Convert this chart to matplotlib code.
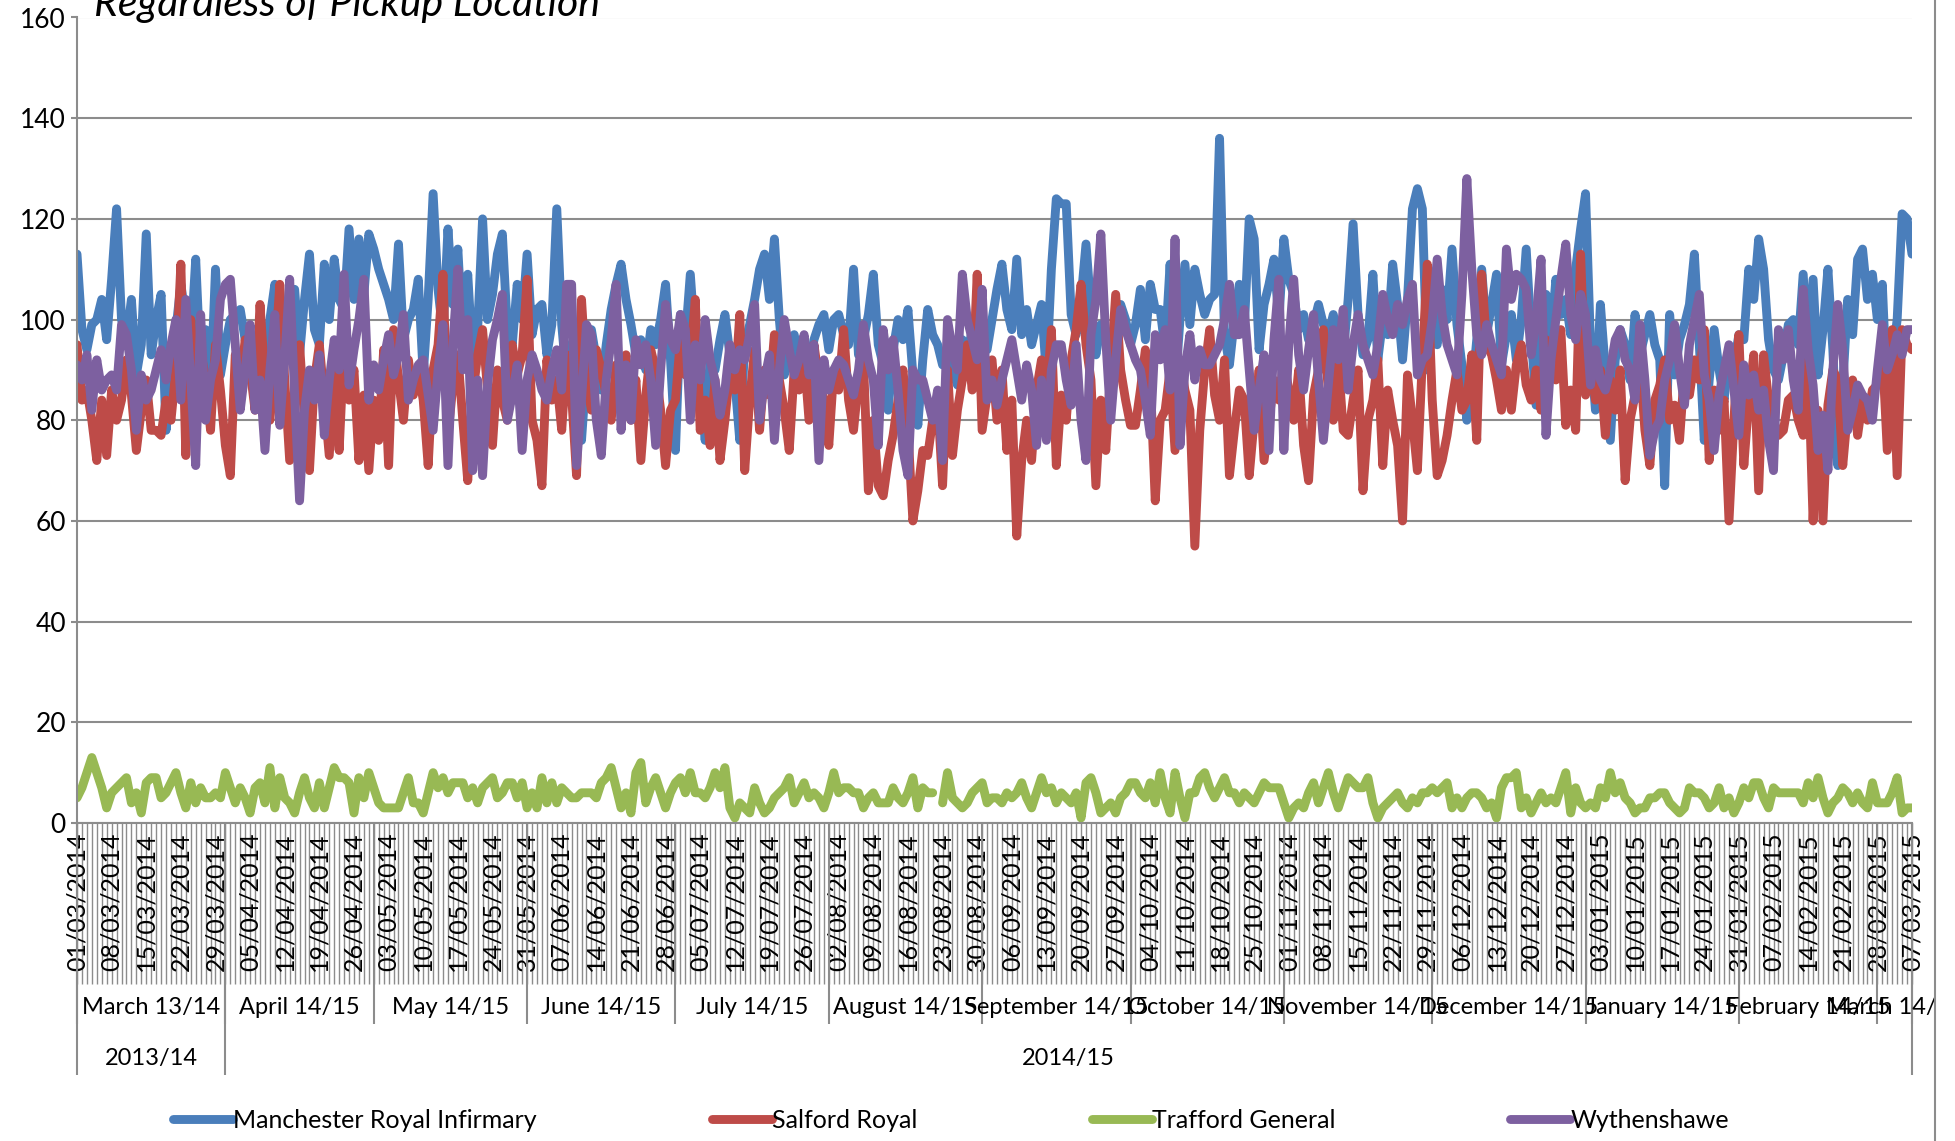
import numpy as np
import matplotlib.pyplot as plt
from matplotlib.lines import Line2D
from matplotlib.transforms import Bbox, TransformedBbox, blended_transform_factory
from datetime import datetime, timedelta

plt.rcParams['font.family'] = ['Lato', 'DejaVu Sans']

# daily values, 01/03/2014 .. 07/03/2015
mri = [
    113, 98, 94, 99, 100, 104, 96, 108, 122, 100,
    96, 104, 89, 95, 117, 93, 100, 105, 78, 92,
    98, 107, 100, 95, 112, 90, 98, 85, 110, 89,
    95, 100, 101, 102, 96, 93, 90, 98, 94, 100,
    107, 96, 92, 99, 106, 93, 104, 113, 98, 95,
    111, 100, 112, 104, 102, 118, 104, 116, 105, 117,
    114, 110, 107, 104, 100, 115, 96, 100, 102, 108,
    89, 104, 125, 106, 97, 118, 103, 114, 96, 109,
    92, 98, 120, 100, 105, 113, 117, 98, 95, 107,
    100, 113, 97, 102, 103, 93, 99, 122, 99, 88,
    95, 98, 76, 90, 98, 92, 86, 95, 102, 107,
    111, 104, 99, 93, 96, 90, 98, 95, 100, 107,
    92, 74, 101, 96, 109, 95, 88, 76, 92, 90,
    96, 101, 93, 88, 76, 95, 99, 104, 110, 113,
    104, 116, 100, 89, 94, 97, 92, 95, 90, 96,
    99, 101, 94, 100, 101, 97, 95, 110, 93, 96,
    101, 109, 95, 91, 82, 94, 100, 96, 102, 89,
    79, 92, 102, 97, 95, 91, 94, 90, 87, 96,
    93, 98, 95, 99, 94, 100, 106, 111, 102, 98,
    112, 97, 102, 95, 99, 103, 89, 110, 124, 123,
    123, 101, 97, 104, 115, 102, 93, 99, 96, 91,
    98, 103, 100, 95, 99, 106, 96, 107, 102, 102,
    94, 111, 86, 100, 111, 99, 110, 105, 101, 104,
    105, 136, 97, 91, 100, 107, 98, 120, 116, 94,
    103, 107, 112, 100, 116, 108, 105, 98, 101, 96,
    99, 103, 99, 97, 101, 96, 93, 104, 119, 101,
    93, 96, 109, 92, 100, 97, 111, 103, 92, 104,
    122, 126, 122, 90, 98, 95, 106, 100, 114, 99,
    91, 80, 85, 96, 110, 97, 103, 109, 91, 97,
    101, 92, 100, 114, 97, 83, 99, 105, 96, 108,
    101, 104, 97, 110, 118, 125, 95, 82, 103, 90,
    76, 92, 98, 95, 88, 101, 93, 97, 101, 95,
    92, 67, 101, 89, 96, 99, 103, 113, 95, 76,
    88, 98, 90, 84, 93, 91, 97, 96, 110, 104,
    116, 110, 96, 90, 88, 93, 99, 100, 95, 109,
    92, 108, 89, 98, 110, 94, 71, 87, 104, 97,
    112, 114, 104, 109, 100, 107, 84, 92, 100, 121,
    120, 113,
]

salford = [
    95, 84, 86, 80, 72, 84, 73, 86, 80, 84,
    92, 85, 74, 82, 88, 78, 78, 77, 84, 80,
    90, 111, 73, 100, 82, 94, 88, 78, 95, 86,
    75, 69, 93, 87, 96, 90, 82, 103, 88, 80,
    92, 107, 88, 72, 86, 95, 80, 70, 88, 95,
    84, 73, 90, 74, 95, 84, 90, 72, 85, 70,
    84, 76, 94, 71, 98, 88, 80, 92, 85, 90,
    84, 71, 90, 95, 109, 77, 87, 93, 80, 68,
    85, 93, 98, 86, 75, 90, 84, 80, 95, 89,
    93, 108, 80, 76, 67, 92, 84, 88, 78, 93,
    85, 69, 104, 88, 82, 94, 90, 85, 80, 91,
    86, 93, 80, 88, 72, 85, 94, 90, 82, 71,
    82, 84, 96, 89, 92, 104, 78, 84, 75, 88,
    72, 80, 90, 86, 101, 70, 84, 94, 78, 90,
    85, 97, 88, 82, 74, 90, 86, 93, 80, 95,
    88, 84, 75, 90, 86, 98, 84, 78, 88, 92,
    66, 80, 67, 65, 72, 77, 84, 90, 78, 60,
    66, 74, 73, 80, 84, 67, 90, 73, 82, 88,
    95, 86, 109, 78, 85, 92, 80, 90, 74, 84,
    57, 72, 80, 72, 86, 92, 84, 98, 71, 85,
    80, 92, 98, 107, 95, 88, 67, 84, 74, 90,
    105, 90, 84, 79, 79, 86, 94, 88, 64, 80,
    82, 90, 74, 92, 86, 82, 55, 78, 90, 98,
    85, 80, 92, 69, 78, 86, 84, 69, 80, 90,
    72, 80, 88, 84, 92, 86, 80, 90, 75, 68,
    85, 90, 98, 86, 80, 92, 78, 77, 84, 90,
    66, 80, 84, 92, 71, 86, 80, 75, 60, 89,
    80, 70, 92, 111, 84, 69, 72, 77, 84, 90,
    82, 84, 93, 76, 109, 95, 93, 88, 82, 90,
    82, 91, 95, 87, 84, 90, 82, 96, 92, 88,
    98, 79, 86, 78, 113, 85, 92, 84, 90, 77,
    88, 82, 90, 68, 80, 85, 92, 78, 71, 84,
    87, 92, 80, 83, 76, 90, 85, 92, 88, 98,
    72, 86, 78, 84, 60, 80, 97, 71, 84, 93,
    66, 93, 84, 80, 77, 78, 84, 85, 80, 77,
    92, 60, 82, 60, 83, 90, 88, 71, 82, 88,
    77, 84, 80, 86, 87, 94, 74, 98, 69, 98,
    95, 94,
]

trafford = [
    5, 7, 10, 13, 10, 7, 3, 6, 7, 8,
    9, 4, 6, 2, 8, 9, 9, 5, 6, 8,
    10, 6, 3, 8, 4, 7, 5, 5, 6, 5,
    10, 7, 4, 7, 5, 2, 7, 8, 4, 11,
    3, 9, 5, 4, 2, 6, 9, 5, 3, 8,
    3, 7, 11, 9, 9, 8, 2, 9, 5, 10,
    7, 4, 3, 3, 3, 3, 6, 9, 4, 4,
    2, 6, 10, 7, 9, 6, 8, 8, 8, 5,
    7, 4, 7, 8, 9, 5, 6, 8, 8, 5,
    8, 3, 6, 3, 9, 4, 8, 4, 7, 6,
    5, 5, 6, 6, 6, 5, 8, 9, 11, 7,
    3, 6, 2, 10, 12, 4, 7, 9, 6, 3,
    6, 8, 9, 6, 10, 6, 6, 5, 7, 10,
    7, 11, 3, 1, 4, 3, 2, 7, 4, 2,
    3, 5, 6, 7, 9, 4, 6, 8, 5, 6,
    5, 3, 6, 10, 6, 7, 7, 6, 6, 3,
    5, 6, 4, 4, 4, 7, 5, 4, 6, 9,
    3, 7, 6, 6, np.nan, 4, 10, 5, 4, 3,
    4, 6, 7, 8, 4, 5, 5, 4, 6, 5,
    6, 8, 5, 3, 6, 9, 6, 7, 4, 6,
    5, 4, 6, 1, 8, 9, 6, 2, 3, 4,
    2, 5, 6, 8, 8, 6, 5, 8, 4, 10,
    5, 2, 10, 5, 1, 6, 6, 9, 10, 7,
    5, 7, 9, 6, 6, 4, 6, 5, 4, 6,
    8, 7, 7, 7, 4, 1, 3, 4, 3, 6,
    8, 4, 7, 10, 6, 3, 6, 9, 8, 7,
    7, 9, 4, 1, 3, 4, 5, 6, 4, 3,
    5, 4, 6, 6, 7, 6, 7, 8, 3, 5,
    3, 5, 6, 6, 5, 3, 4, 1, 7, 9,
    9, 10, 3, 5, 2, 4, 6, 4, 5, 4,
    7, 10, 2, 7, 4, 3, 4, 3, 7, 5,
    10, 6, 8, 5, 4, 2, 3, 3, 5, 5,
    6, 6, 4, 3, 2, 3, 7, 6, 6, 5,
    3, 4, 7, 3, 5, 2, 4, 7, 5, 8,
    8, 5, 3, 7, 6, 6, 6, 6, 6, 4,
    8, 5, 9, 5, 2, 4, 5, 7, 6, 4,
    6, 4, 3, 8, 4, 4, 4, 6, 9, 2,
    3, 3,
]

wythenshawe = [
    91, 88, 93, 82, 92, 86, 88, 89, 86, 99,
    97, 90, 78, 89, 84, 86, 90, 94, 88, 95,
    100, 84, 104, 88, 71, 101, 80, 88, 92, 104,
    107, 108, 95, 82, 90, 99, 82, 88, 74, 90,
    101, 79, 92, 108, 85, 64, 82, 90, 84, 93,
    77, 88, 96, 90, 109, 87, 94, 100, 108, 84,
    91, 86, 92, 97, 89, 93, 101, 84, 88, 91,
    92, 85, 78, 90, 99, 71, 95, 110, 90, 100,
    70, 88, 69, 87, 96, 100, 105, 80, 85, 91,
    74, 88, 93, 90, 86, 84, 90, 94, 86, 107,
    107, 71, 84, 99, 97, 80, 73, 88, 96, 107,
    78, 91, 80, 96, 91, 95, 88, 75, 90, 103,
    96, 94, 101, 98, 80, 95, 88, 100, 92, 88,
    81, 86, 95, 90, 94, 92, 97, 103, 80, 88,
    93, 76, 90, 100, 94, 89, 92, 97, 89, 95,
    72, 92, 86, 90, 92, 91, 88, 85, 90, 99,
    92, 88, 75, 98, 90, 96, 86, 74, 69, 90,
    88, 88, 84, 80, 86, 72, 100, 94, 90, 109,
    100, 96, 92, 106, 84, 88, 83, 88, 92, 96,
    90, 84, 91, 86, 75, 88, 76, 90, 95, 95,
    88, 83, 95, 80, 72, 97, 104, 117, 96, 80,
    92, 102, 98, 95, 92, 90, 84, 77, 97, 92,
    98, 86, 116, 75, 90, 97, 88, 94, 91, 91,
    93, 95, 100, 107, 97, 97, 102, 90, 78, 86,
    93, 74, 96, 108, 74, 95, 108, 93, 86, 94,
    101, 88, 76, 87, 98, 92, 102, 86, 95, 101,
    95, 92, 89, 95, 105, 100, 97, 103, 99, 104,
    107, 89, 92, 93, 100, 112, 101, 95, 92, 89,
    105, 128, 110, 97, 93, 99, 95, 92, 89, 114,
    104, 109, 108, 106, 93, 100, 112, 77, 92, 100,
    108, 115, 101, 96, 105, 101, 87, 94, 88, 86,
    90, 96, 98, 92, 90, 84, 99, 88, 73, 78,
    80, 88, 92, 99, 90, 83, 95, 100, 105, 89,
    84, 74, 85, 90, 95, 86, 77, 91, 85, 89,
    82, 86, 76, 70, 98, 92, 98, 88, 82, 106,
    94, 87, 74, 81, 70, 90, 103, 94, 78, 82,
    87, 85, 84, 80, 90, 99, 90, 93, 97, 93,
    98, 98,
]

series = [mri, salford, trafford, wythenshawe]
names = ['Manchester Royal Infirmary', 'Salford Royal', 'Trafford General', 'Wythenshawe']
colors = ['#4A7EBB', '#BE4B48', '#98B954', '#7D60A0']

month_labels = ['March 13/14', 'April 14/15', 'May 14/15', 'June 14/15', 'July 14/15',
                'August 14/15', 'September 14/15', 'October 14/15', 'November 14/15',
                'December 14/15', 'January 14/15', 'February 14/15', 'March 14/15']
year_labels = ['2013/14', '2014/15']
months_per_year = [1, 12]

start = datetime(2014, 3, 1)
dates = [start + timedelta(days=i) for i in range(len(mri))]
x = np.arange(len(dates))
for s in series:
    assert len(s) == len(dates), len(s)

grey = '#8c8c8c'
W, H = 1956, 1141
fig = plt.figure(figsize=(W / 100, H / 100), dpi=100)
ax = fig.add_axes([77 / W, 1 - 823 / H, (1912 - 77) / W, (823 - 17.5) / H])

for vals, name, col in zip(series, names, colors):
    ax.plot(x, vals, color=col, lw=6.4, label=name,
            solid_joinstyle='round', solid_capstyle='round')

ax.set_xlim(0, len(x) - 1)
ax.set_ylim(0, 160)
ax.set_yticks(range(0, 161, 20))
ax.yaxis.grid(True, color=grey, lw=1.5)
ax.set_axisbelow(True)
for side in ['top', 'right']:
    ax.spines[side].set_visible(False)
for side in ['left', 'bottom']:
    ax.spines[side].set_color(grey)
    ax.spines[side].set_linewidth(1.5)
ax.tick_params(axis='y', length=4, width=1.5, color=grey, pad=4, labelsize=19)

ax.set_xticks(x[::7])
ax.set_xticklabels([d.strftime('%d/%m/%Y') for d in dates[::7]], rotation=90, fontsize=18)
ax.tick_params(axis='x', length=0, pad=7)

# daily tick marks + group separators under the axis
trans = blended_transform_factory(ax.transData, ax.transAxes)
ax.vlines(x, -0.2, 0, transform=trans, color=grey, lw=1, clip_on=False, zorder=0)

month_starts = [i for i, d in enumerate(dates) if d.day == 1 and i > 0]
seps = [0] + [i - 1 for i in month_starts] + [len(x) - 1]
ax.vlines(seps, -0.25, 0, transform=trans, color=grey, lw=1.5, clip_on=False)

clip = TransformedBbox(Bbox([[0, 0], [1934 / W, 1]]), fig.transFigure)
for i, lab in enumerate(month_labels):
    t = ax.text((seps[i] + seps[i + 1]) / 2, -0.229, lab, transform=trans,
                ha='center', va='center', fontsize=17)
    t.set_clip_path(None)
    t.set_clip_box(clip)
    t.set_clip_on(True)

year_seps = [0]
k = 0
for n in months_per_year:
    k += n
    year_seps.append(seps[k])
ax.vlines(year_seps, -0.313, 0, transform=trans, color=grey, lw=1.5, clip_on=False)
for i, lab in enumerate(year_labels):
    ax.text((year_seps[i] + year_seps[i + 1]) / 2, -0.292, lab, transform=trans,
            ha='center', va='center', fontsize=17)

fig.text(94 / W, 1 - 16 / H, 'Regardless of Pickup Location', style='italic',
         fontsize=29.5, ha='left', va='baseline')

handles = [Line2D([], [], color=c, lw=6.4, solid_capstyle='round') for c in colors]
fig.legend(handles, names, loc='center', bbox_to_anchor=(951 / W, 1 - 1120 / H),
           ncol=4, frameon=False, fontsize=18, handlelength=2.4,
           handletextpad=0.0, columnspacing=7.0)

fig.add_artist(Line2D([1935 / W, 1935 / W], [0, 1], transform=fig.transFigure,
                      color=grey, lw=1.5))

fig.savefig('out.png', dpi=100)
